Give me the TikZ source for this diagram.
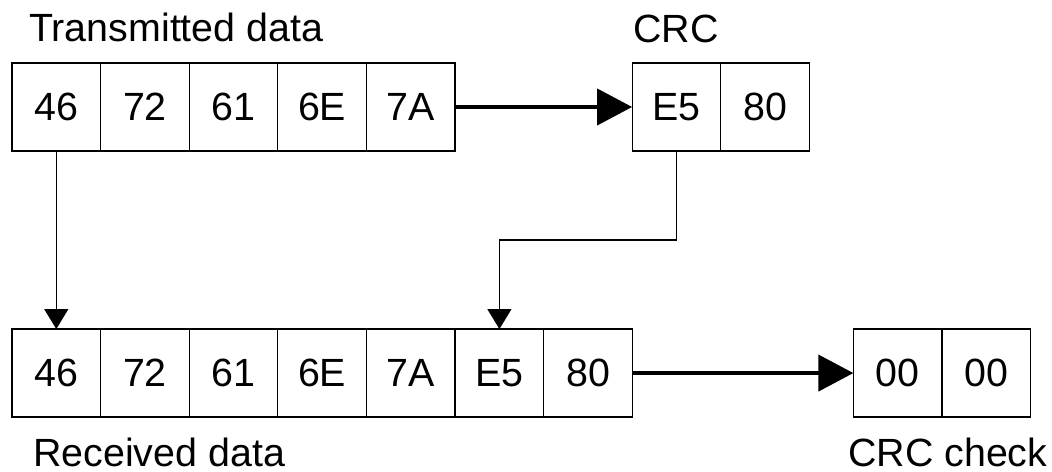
\documentclass[tikz,border=0pt]{standalone}
\usepackage{fontspec}
\setmainfont{Liberation Sans}
\usepackage{tikz}
\usetikzlibrary{positioning,arrows.meta}

\begin{document}
\begin{tikzpicture}[%
    x=0.025cm,
    y=0.025cm,
    node distance=0pt,
    cell/.style={%
      draw,
      line width=0.9pt,
      outer sep=0pt,
      inner sep=0pt,
      minimum width=2.215cm,
      minimum height=2.2cm,
      font=\fontsize{28}{34}\selectfont
    },
    caption/.style={%
      anchor=base west,
      inner sep=0pt,
      font=\fontsize{28}{34}\selectfont
    },
    link/.style={%
      -{Triangle[width=0.6cm,length=0.5cm]},
      line width=0.9pt
    },
    flow/.style={%
      -{Triangle[width=0.9cm,length=0.875cm]},
      line width=0.1cm
    }
  ]
    \useasboundingbox (0,0) rectangle (1052,472);

    % transmitted bytes and their CRC
    \node[cell] (t1) at (56.3,365)               {46};
    \node[cell] (t2) [right=of t1]               {72};
    \node[cell] (t3) [right=of t2]               {61};
    \node[cell] (t4) [right=of t3]               {6E};
    \node[cell] (t5) [right=of t4]               {7A};
    \node[cell] (c1) [right=4.425cm of t5]       {E5};
    \node[cell] (c2) [right=of c1]               {80};

    % received bytes and the check result
    \node[cell] (r1) [below=4.45cm of t1]        {46};
    \node[cell] (r2) [right=of r1]               {72};
    \node[cell] (r3) [right=of r2]               {61};
    \node[cell] (r4) [right=of r3]               {6E};
    \node[cell] (r5) [right=of r4]               {7A};
    \node[cell] (r6) [right=of r5]               {E5};
    \node[cell] (r7) [right=of r6]               {80};
    \node[cell] (k1) [right=5.525cm of r7]       {00};
    \node[cell] (k2) [right=of k1]               {00};

    \node[caption] (txlbl)  at (29,430)  {Transmitted data};
    \node[caption] (crclbl) at (633,429) {CRC};
    \node[caption] (rxlbl)  at (33,5)    {Received data};
    \node[caption] (chklbl) at (848,5)   {CRC check};

    \draw[flow] (t5.east) -- (c1.west);
    \draw[flow] (r7.east) -- (k1.west);
    \draw[link] (t1.south) -- (r1.north);
    \draw[link] (c1.south) -- ++(0,-89) -| (r6.north);
\end{tikzpicture}
\end{document}
